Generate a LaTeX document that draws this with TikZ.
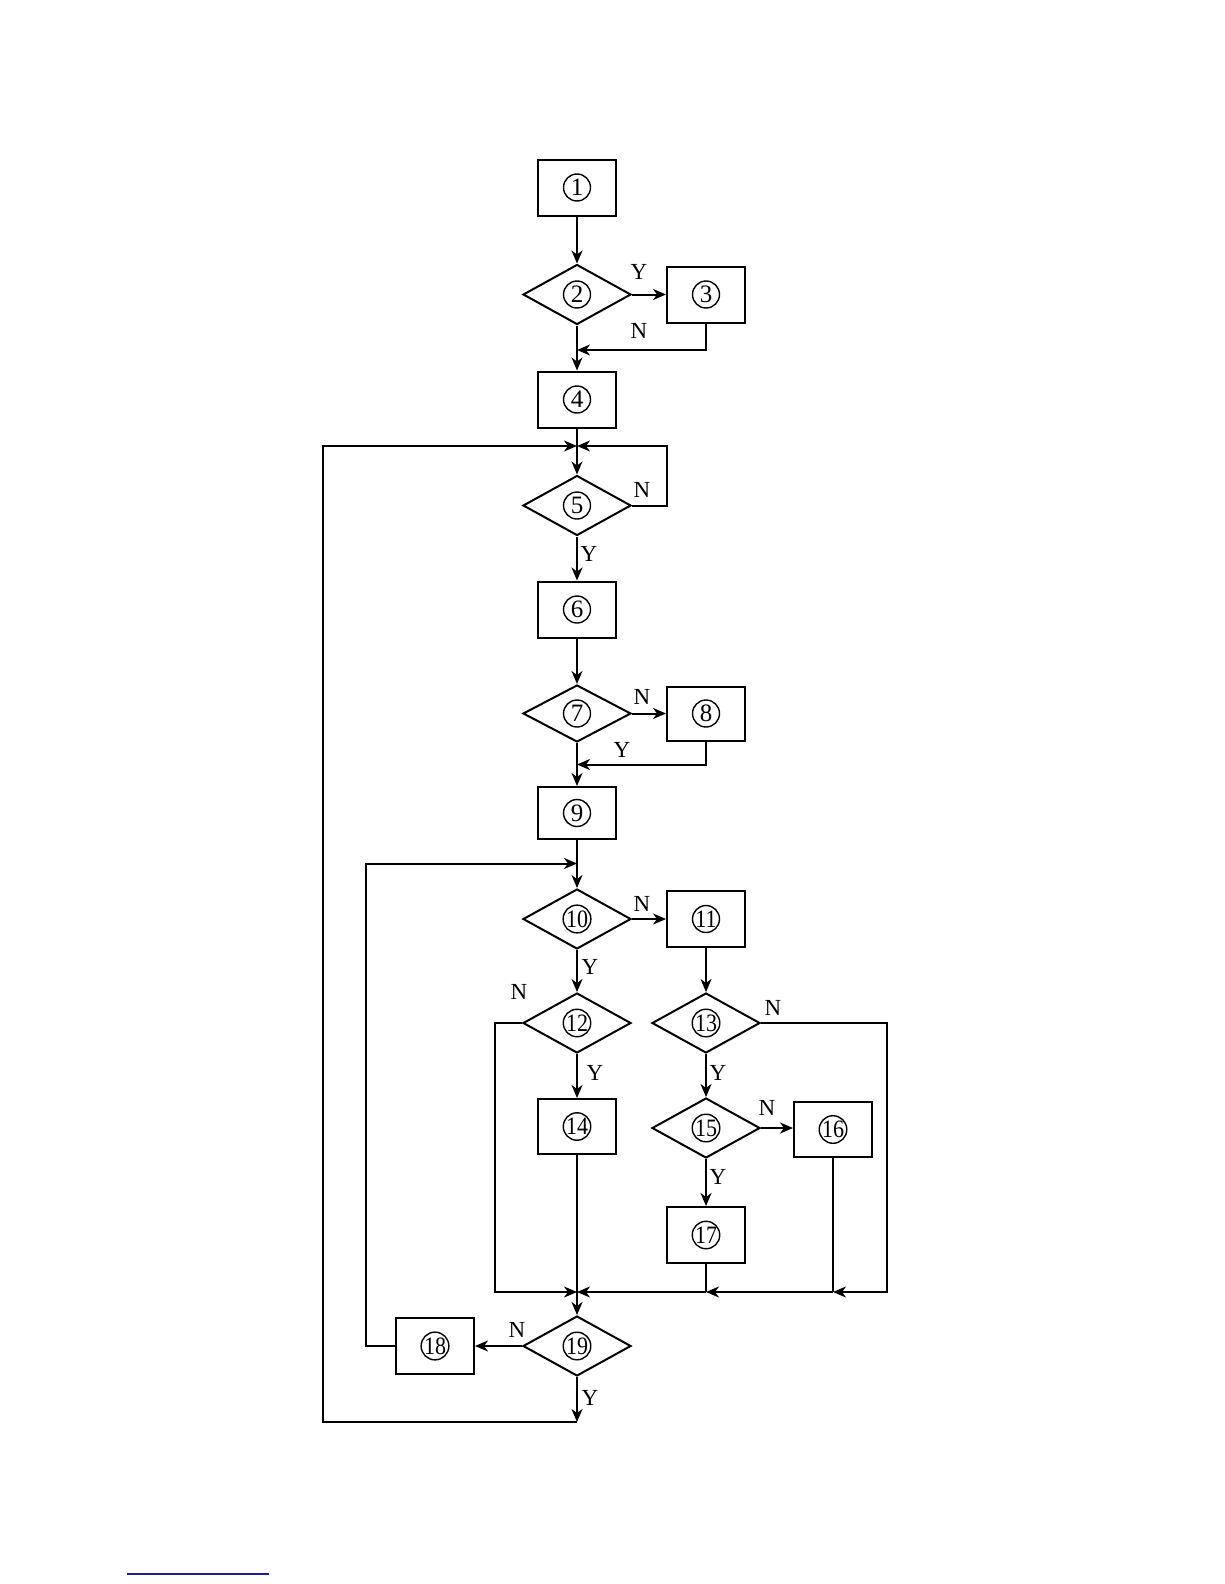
\documentclass[tikz,border=0pt]{standalone}
\usepackage{fontspec}
\setmainfont{Liberation Serif}
\usetikzlibrary{shapes.geometric,arrows.meta}
\definecolor{linkblue}{RGB}{30,30,140}
\newcommand{\tw}[1]{\scalebox{0.88}[1]{#1}}
\tikzset{
  cn/.style={circle, draw, line width=1.4pt, minimum size=27pt, inner sep=0pt,
    font=\fontsize{25}{25}\selectfont},
  boxn/.style={draw, line width=2pt, minimum width=78pt, minimum height=56pt,
    inner sep=0pt, label={[cn]center:#1}},
  dia/.style={diamond, draw, line width=2pt, minimum width=108pt, minimum height=60pt,
    inner sep=0pt, label={[cn]center:#1}},
  yn/.style={font=\fontsize{23}{23}\selectfont, inner sep=0pt},
  arr/.style={-{Stealth[length=13pt,width=11pt,inset=4pt]}},
  every path/.style={line width=2pt}
}
\begin{document}
\begin{tikzpicture}[x=1pt,y=-1pt]
\useasboundingbox (0,0) rectangle (1224,1584);
% nodes
\node[boxn={1}] (n1) at (577,187.5) {};
\node[dia={2}] (n2) at (577,294.5) {};
\node[boxn={3}] (n3) at (706,294.5) {};
\node[boxn={4}] (n4) at (577,399.5) {};
\node[dia={5}] (n5) at (577,505.5) {};
\node[boxn={6}] (n6) at (577,609.5) {};
\node[dia={7}, minimum height=57pt] (n7) at (577,713.5) {};
\node[boxn={8}, minimum height=54pt] (n8) at (706,713.5) {};
\node[boxn={9}, minimum height=52pt] (n9) at (577,813) {};
\node[dia={\tw{10}}] (n10) at (577,919) {};
\node[boxn={\tw{11}}] (n11) at (706,919) {};
\node[dia={\tw{12}}] (n12) at (577,1023) {};
\node[dia={\tw{13}}] (n13) at (706,1023) {};
\node[boxn={\tw{14}}, minimum height=55pt] (n14) at (577,1126.5) {};
\node[dia={\tw{15}}] (n15) at (706,1128) {};
\node[boxn={\tw{16}}, minimum height=55pt] (n16) at (833,1129.5) {};
\node[boxn={\tw{17}}] (n17) at (706,1235) {};
\node[boxn={\tw{18}}] (n18) at (435,1346) {};
\node[dia={\tw{19}}] (n19) at (577,1346) {};
% junction coordinates
\coordinate (j3) at (577,350);
\coordinate (j5) at (577,446);
\coordinate (c5r) at (667,446);
\coordinate (c19b) at (577,1422);
\coordinate (cbl) at (323,1422);
\coordinate (ctl) at (323,446);
\coordinate (j8) at (577,764.5);
\coordinate (j10) at (577,863.5);
\coordinate (c18l) at (366,863.5);
\coordinate (jb) at (577,1292);
\coordinate (c12l) at (495,1292);
\coordinate (j17) at (706,1292);
\coordinate (j16) at (833,1292);
\coordinate (c13r) at (887,1292);
% connectors
\draw[arr] (n1) -- (n2);
\draw[arr] (n2.east) -- (n3.west);
\draw (n2.south) -- (j3);
\draw[arr] (j3) -- (n4.north);
\draw[arr] (n3.south) |- (j3);
\draw (n4.south) -- (j5);
\draw[arr] (j5) -- (n5.north);
\draw[arr] (n5.east) -| (c5r) -- (j5);
\draw[arr] (n19.south) -- (c19b);
\draw[arr] (c19b) -- (cbl) -- (ctl) -- (j5);
\draw[arr] (n5.south) -- (n6.north);
\draw[arr] (n6.south) -- (n7.north);
\draw[arr] (n7.east) -- (n8.west);
\draw (n7.south) -- (j8);
\draw[arr] (j8) -- (n9.north);
\draw[arr] (n8.south) |- (j8);
\draw (n9.south) -- (j10);
\draw[arr] (j10) -- (n10.north);
\draw[arr] (n18.west) -| (c18l) -- (j10);
\draw[arr] (n10.east) -- (n11.west);
\draw[arr] (n10.south) -- (n12.north);
\draw[arr] (n11.south) -- (n13.north);
\draw[arr] (n12.west) -| (c12l) -- (jb);
\draw[arr] (n12.south) -- (n14.north);
\draw (n14.south) -- (jb);
\draw[arr] (jb) -- (n19.north);
\draw (n17.south) -- (j17);
\draw (n16.south) -- (j16);
\draw[arr] (n13.east) -| (c13r) -- (j16);
\draw[arr] (j16) -- (j17);
\draw[arr] (j17) -- (jb);
\draw[arr] (n13.south) -- (n15.north);
\draw[arr] (n15.east) -- (n15.east -| n16.west);
\draw[arr] (n15.south) -- (n17.north);
\draw[arr] (n19.west) -- (n18.east);
% Y / N labels
\node[yn] (lY2) at (639,272) {Y};
\node[yn] (lN3) at (639,331) {N};
\node[yn] (lN5) at (642,490) {N};
\node[yn] (lY5) at (589,554) {Y};
\node[yn] (lN7) at (642,697) {N};
\node[yn] (lY8) at (622,750) {Y};
\node[yn] (lN10) at (642,904) {N};
\node[yn] (lY10) at (590,967) {Y};
\node[yn] (lN12) at (519,992) {N};
\node[yn] (lN13) at (773,1008) {N};
\node[yn] (lY12) at (595,1073) {Y};
\node[yn] (lY13) at (718,1073) {Y};
\node[yn] (lN15) at (767,1108) {N};
\node[yn] (lY15) at (718,1177) {Y};
\node[yn] (lN19) at (517,1330) {N};
\node[yn] (lY19) at (590,1398) {Y};
% footnote rule
\draw[linkblue, line width=1.2pt] (127,1574) -- (269,1574);
\end{tikzpicture}
\end{document}
